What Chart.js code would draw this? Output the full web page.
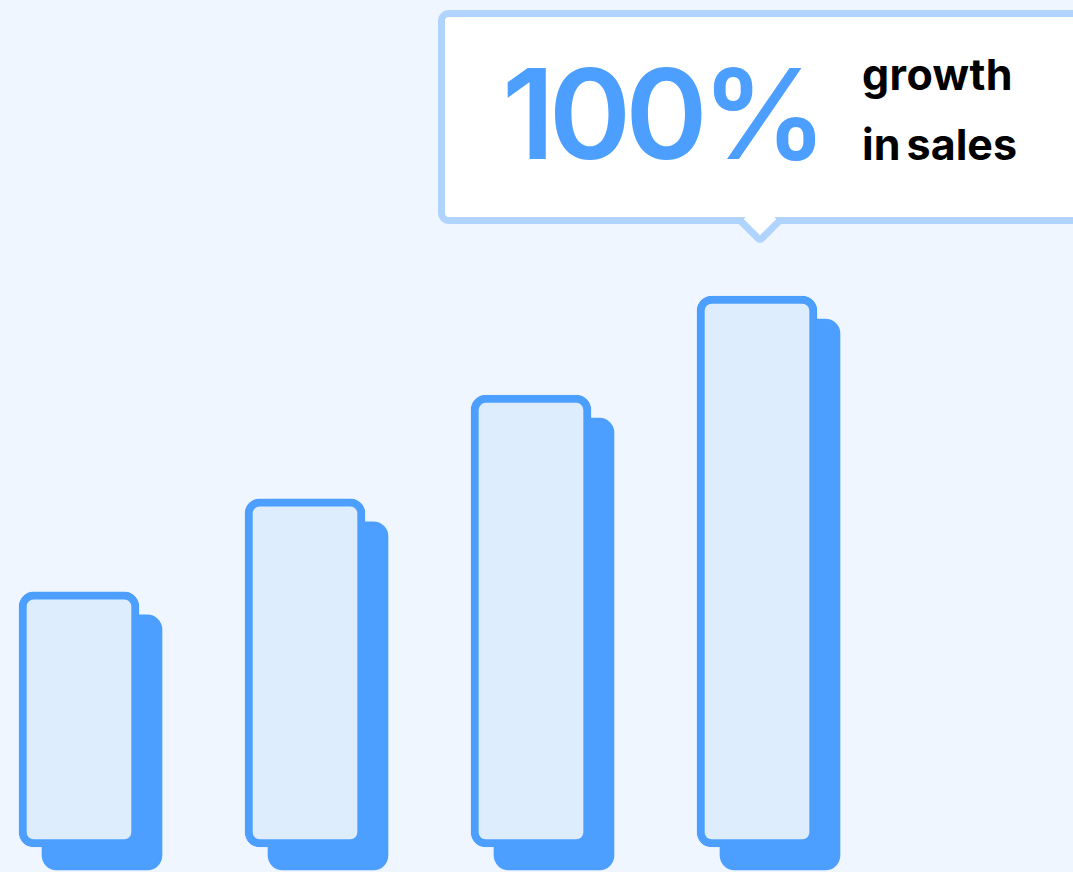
<!DOCTYPE html>
<html>
<head>
<meta charset="utf-8">
<script src="https://cdn.jsdelivr.net/npm/chart.js@4/dist/chart.umd.min.js"></script>
<style>
  html, body { margin: 0; padding: 0; background: #eff6ff; }
  .wrap { position: relative; width: 1073px; height: 872px; overflow: hidden; background: #eff6ff; }
  #myChart { position: absolute; left: 0; top: 0; }
  .callout {
    position: absolute; left: 438px; top: 10px; width: 700px; height: 214px;
    box-sizing: border-box; border: 7px solid #b1d4ff; border-radius: 11px; background: #fff;
    font-family: Inter, "Noto Sans", sans-serif;
  }
  .callout::after {
    content: ""; position: absolute; left: 300px; top: 192px; width: 30px; height: 30px;
    box-sizing: border-box; background: #fff;
    border-right: 7px solid #b1d4ff; border-bottom: 7px solid #b1d4ff;
    border-bottom-right-radius: 6px; transform: rotate(45deg);
  }
  .big { position: absolute; left: 57px; top: 34px; font-size: 125px; line-height: 125px; font-weight: 600; color: #4d9fff; letter-spacing: -6px; }
  .small { position: absolute; left: 417px; font-size: 43px; line-height: 43px; font-weight: 700; color: #000; letter-spacing: 0.4px; }
</style>
</head>
<body>
<div class="wrap">
  <canvas id="myChart" width="1073" height="872"></canvas>
  <div class="callout">
    <div class="big">100%</div>
    <div class="small" style="top:36px">growth</div>
    <div class="small" style="top:106px; letter-spacing:0; word-spacing:-4px">in sales</div>
  </div>
</div>
<script>
const labels = ['Q1', 'Q2', 'Q3', 'Q4']
const sales = [46.3, 63.2, 82, 100]

const blue = '#4d9fff'
const lightBlue = '#ddedfd'

// moves the "shadow" dataset down-right
const shadowShift = {
    id: 'shadowShift',
    beforeDatasetDraw: (chart, args) => {
        if (args.meta.label !== 'shadow') return
        chart.ctx.save()
        chart.ctx.translate(23, 23)
    },
    afterDatasetDraw: (chart, args) => {
        if (args.meta.label !== 'shadow') return
        chart.ctx.restore()
    }
}

const data = {
    labels,
    datasets: [
        {
            label: 'sales',
            data: sales,
            order: 0,
            backgroundColor: lightBlue,
            borderColor: blue,
            borderWidth: 8,
            borderRadius: 15,
            borderSkipped: false,
        },
        {
            label: 'shadow',
            data: sales,
            order: 1,
            backgroundColor: blue,
            borderWidth: 0,
            borderRadius: 15,
            borderSkipped: false,
        }
    ]
}

const config = {
    type: 'bar',
    data: data,
    plugins: [shadowShift],
    options: {
        responsive: false,
        animation: false,
        layout: { padding: { top: 296, bottom: 25, left: 79, right: 316 } },
        datasets: { bar: { barThickness: 120, grouped: false, clip: false } },
        scales: {
            x: { display: false, offset: false },
            y: { display: false, min: 0, max: 100 }
        },
        plugins: {
            legend: { display: false },
            tooltip: { enabled: false }
        }
    }
}

const myChart = new Chart(document.querySelector('#myChart'), config)
</script>
</body>
</html>
